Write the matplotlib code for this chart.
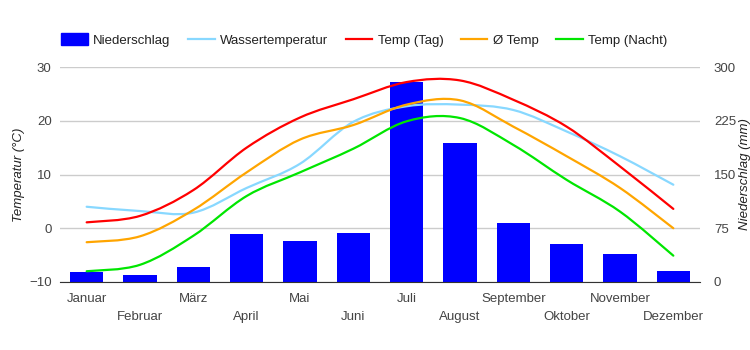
import numpy as np
import matplotlib.pyplot as plt
from matplotlib.path import Path
from matplotlib.patches import PathPatch, Patch
from matplotlib.lines import Line2D

plt.rcParams['font.family'] = ['Liberation Sans', 'DejaVu Sans']

months = ['Januar', 'Februar', 'März', 'April', 'Mai', 'Juni',
          'Juli', 'August', 'September', 'Oktober', 'November', 'Dezember']
niederschlag = [14, 10, 21, 67, 57, 68, 279, 194, 82, 53, 39, 15]
wasser = [4.0, 3.2, 2.9, 7.5, 12.0, 19.8, 22.7, 23.0, 22.0, 18.0, 13.4, 8.1]
temp_tag = [1.1, 2.3, 7.1, 15.0, 20.6, 24.0, 27.2, 27.5, 23.9, 18.9, 11.5, 3.6]
temp_avg = [-2.6, -1.5, 3.4, 10.4, 16.5, 19.2, 23.0, 23.8, 18.9, 13.4, 7.5, 0.0]
temp_nacht = [-8.0, -6.8, -1.4, 6.0, 10.4, 14.8, 19.9, 20.5, 15.5, 9.0, 3.1, -5.1]

colors = {'bar': '#0000ff', 'wasser': '#88d8ff', 'tag': '#ff0000',
          'avg': '#ffa500', 'nacht': '#00e600'}


def smooth_path(x, y):
    # bezier curve through the data points, like the chart's smooth lines
    pts = np.column_stack([x, y]).astype(float)
    n = len(pts)
    verts = [pts[0]]
    codes = [Path.MOVETO]
    for i in range(n - 1):
        p0 = pts[max(i - 1, 0)]
        p1 = pts[i]
        p2 = pts[i + 1]
        p3 = pts[min(i + 2, n - 1)]
        verts += [p1 + (p2 - p0) / 6, p2 - (p3 - p1) / 6, p2]
        codes += [Path.CURVE4] * 3
    return Path(verts, codes)


fig = plt.figure(figsize=(7.5, 3.5), dpi=100)
ax2 = fig.add_axes([60 / 750, 1 - 282 / 350, 640 / 750, 215 / 350])
ax = ax2.twinx()
ax.set_zorder(ax2.get_zorder() + 1)
ax.patch.set_visible(False)

x = np.arange(len(months))
ax2.bar(x, niederschlag, width=0.62, color=colors['bar'], zorder=2)
ax2.set_ylim(0, 300)
ax2.set_yticks([0, 75, 150, 225, 300])
ax2.grid(axis='y', color='#cccccc', lw=1, zorder=0)
ax2.set_xlim(-0.5, 11.5)

for vals, key in [(wasser, 'wasser'), (temp_tag, 'tag'),
                  (temp_avg, 'avg'), (temp_nacht, 'nacht')]:
    ax.add_patch(PathPatch(smooth_path(x, vals), fill=False,
                           edgecolor=colors[key], lw=1.6, capstyle='round'))
ax.set_ylim(-10, 30)
ax.set_yticks([-10, 0, 10, 20, 30])

# left axis = temperature, right axis = rain
ax.yaxis.tick_left()
ax.yaxis.set_label_position('left')
ax2.yaxis.tick_right()
ax2.yaxis.set_label_position('right')

for a in (ax, ax2):
    for s in a.spines.values():
        s.set_visible(False)
    a.tick_params(length=0, labelsize=9.5, labelcolor='#444444')
ax2.spines['bottom'].set_visible(True)
ax2.spines['bottom'].set_color('#333333')
ax.tick_params(axis='y', pad=6)
ax2.tick_params(axis='y', pad=10)

ax2.set_xticks(x)
ax2.set_xticklabels(months)
ax2.tick_params(axis='x', pad=8)
for i, lab in enumerate(ax2.get_xticklabels()):
    if i % 2:
        lab.set_y(-0.085)

ax.set_ylabel('Temperatur (°C)', fontsize=9.5, style='italic',
              color='#222222', labelpad=3)
ax2.set_ylabel('Niederschlag (mm)', fontsize=9.5, style='italic',
               color='#222222', labelpad=2, rotation=90)

handles = [Patch(color=colors['bar']),
           Line2D([], [], color=colors['wasser'], lw=1.6),
           Line2D([], [], color=colors['tag'], lw=1.6),
           Line2D([], [], color=colors['avg'], lw=1.6),
           Line2D([], [], color=colors['nacht'], lw=1.6)]
labels = ['Niederschlag', 'Wassertemperatur', 'Temp (Tag)', 'Ø Temp', 'Temp (Nacht)']
fig.legend(handles, labels, loc='center left', ncol=5, frameon=False,
           bbox_to_anchor=(0.066, 1 - 40 / 350), fontsize=9.5,
           handlelength=2.0, handleheight=1.05, handletextpad=0.4,
           columnspacing=1.35, labelcolor='#222222')

fig.savefig('out.png', dpi=100)
